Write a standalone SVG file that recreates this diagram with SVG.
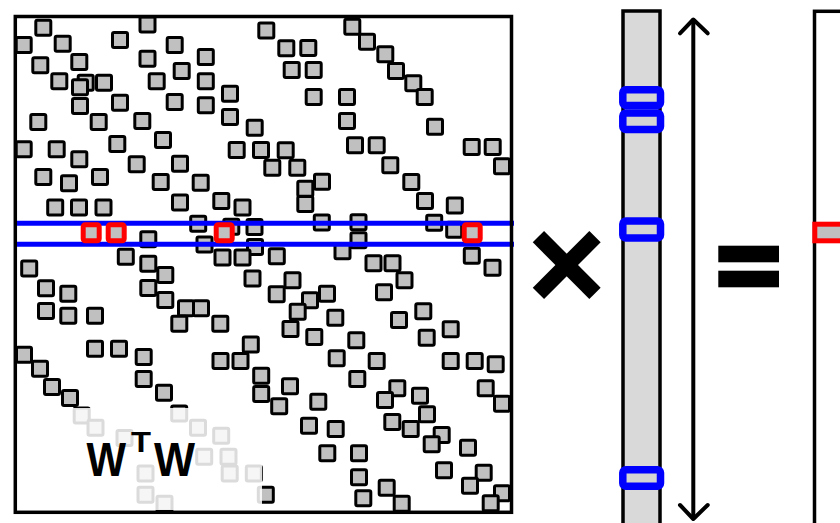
<svg xmlns="http://www.w3.org/2000/svg" xmlns:xlink="http://www.w3.org/1999/xlink" width="840" height="523" viewBox="0 0 840 523">
  <style>
    .cell { fill: #c0c0c0; stroke: #000; stroke-width: 3; }
    .hit { fill: #c0c0c0; stroke: #ff0000; stroke-width: 5; }
    .frame { fill: none; stroke: #000; stroke-width: 3.5; }
    .row { stroke: #0000ff; stroke-width: 5; }
    .pick { fill: #d4d4d4; stroke: #0000ff; stroke-width: 7.5; }
    .label { font-family: "Liberation Sans", Arial, sans-serif; font-weight: bold; fill: #000; }
    .arrow { fill: none; stroke: #000; stroke-width: 4; stroke-linecap: round; stroke-linejoin: round; }
  </style>
  <defs>
    <rect id="sq" x="-7.5" y="-7.5" width="15" height="15" rx="1.5" class="cell"/>
    <rect id="sqr" x="-8" y="-8" width="16" height="16" rx="2" class="hit"/>
  </defs>

  <rect width="840" height="523" fill="#fff"/>

  <!-- sparse matrix W^T W -->
  <g id="matrix">
    <g id="matrix-cells">
      <use href="#sq" x="43.3" y="27.7"/>
      <use href="#sq" x="23.7" y="45"/>
      <use href="#sq" x="147.5" y="24.4"/>
      <use href="#sq" x="120" y="40"/>
      <use href="#sq" x="62.7" y="43.7"/>
      <use href="#sq" x="174.7" y="45"/>
      <use href="#sq" x="40.3" y="65.3"/>
      <use href="#sq" x="79.3" y="62"/>
      <use href="#sq" x="147.5" y="58.7"/>
      <use href="#sq" x="205.8" y="57"/>
      <use href="#sq" x="181.7" y="71"/>
      <use href="#sq" x="59.3" y="81.3"/>
      <use href="#sq" x="85.7" y="82.7"/>
      <use href="#sq" x="104" y="82.7"/>
      <use href="#sq" x="80" y="87.3"/>
      <use href="#sq" x="156.7" y="81.3"/>
      <use href="#sq" x="205.8" y="81.3"/>
      <use href="#sq" x="230" y="93.7"/>
      <use href="#sq" x="80" y="106"/>
      <use href="#sq" x="120" y="102.7"/>
      <use href="#sq" x="174.7" y="102"/>
      <use href="#sq" x="205.8" y="105.3"/>
      <use href="#sq" x="230" y="117"/>
      <use href="#sq" x="38.3" y="122"/>
      <use href="#sq" x="98.7" y="122"/>
      <use href="#sq" x="142.3" y="121"/>
      <use href="#sq" x="254.7" y="127.7"/>
      <use href="#sq" x="163" y="140"/>
      <use href="#sq" x="117.3" y="144"/>
      <use href="#sq" x="23.7" y="149.3"/>
      <use href="#sq" x="56.7" y="149.3"/>
      <use href="#sq" x="236.7" y="150"/>
      <use href="#sq" x="261" y="150"/>
      <use href="#sq" x="79.3" y="159.3"/>
      <use href="#sq" x="136.7" y="164.3"/>
      <use href="#sq" x="180" y="163.7"/>
      <use href="#sq" x="43.3" y="177"/>
      <use href="#sq" x="100" y="177"/>
      <use href="#sq" x="69" y="183.3"/>
      <use href="#sq" x="160.7" y="182"/>
      <use href="#sq" x="200.7" y="182.7"/>
      <use href="#sq" x="55.2" y="207.5"/>
      <use href="#sq" x="79" y="207.5"/>
      <use href="#sq" x="103.5" y="207.5"/>
      <use href="#sq" x="180" y="202.5"/>
      <use href="#sq" x="221.3" y="201"/>
      <use href="#sq" x="242.5" y="207.5"/>
      <use href="#sq" x="198.2" y="223.7"/>
      <use href="#sq" x="231.3" y="226.7"/>
      <use href="#sq" x="254.5" y="227"/>
      <use href="#sq" x="148.3" y="239.2"/>
      <use href="#sq" x="204.5" y="244.5"/>
      <use href="#sq" x="255" y="247"/>
      <use href="#sq" x="125.8" y="256.8"/>
      <use href="#sq" x="222.5" y="257.5"/>
      <use href="#sq" x="242.5" y="257.5"/>
      <use href="#sq" x="148.3" y="263.8"/>
      <use href="#sq" x="29.2" y="268.5"/>
      <use href="#sq" x="165.3" y="275"/>
      <use href="#sq" x="252.5" y="278.5"/>
      <use href="#sq" x="46" y="288.3"/>
      <use href="#sq" x="68.3" y="293.7"/>
      <use href="#sq" x="148.3" y="288"/>
      <use href="#sq" x="165.3" y="300"/>
      <use href="#sq" x="186" y="308.3"/>
      <use href="#sq" x="201" y="308.3"/>
      <use href="#sq" x="46" y="311"/>
      <use href="#sq" x="68.3" y="315.7"/>
      <use href="#sq" x="95" y="315.7"/>
      <use href="#sq" x="179.3" y="323.7"/>
      <use href="#sq" x="220.3" y="323.7"/>
      <use href="#sq" x="250.8" y="344.5"/>
      <use href="#sq" x="95" y="348.7"/>
      <use href="#sq" x="119" y="348.7"/>
      <use href="#sq" x="143.7" y="357"/>
      <use href="#sq" x="220.5" y="361"/>
      <use href="#sq" x="240.5" y="361"/>
      <use href="#sq" x="261.2" y="375.8"/>
      <use href="#sq" x="261.2" y="394"/>
      <use href="#sq" x="24" y="354.7"/>
      <use href="#sq" x="40" y="368.7"/>
      <use href="#sq" x="52" y="387"/>
      <use href="#sq" x="70" y="398"/>
      <use href="#sq" x="143.7" y="379"/>
      <use href="#sq" x="164" y="392.7"/>

      <use href="#sq" x="266.3" y="30.5"/>
      <use href="#sq" x="352.3" y="26.7"/>
      <use href="#sq" x="367" y="41.7"/>
      <use href="#sq" x="286.3" y="48.3"/>
      <use href="#sq" x="308.3" y="48"/>
      <use href="#sq" x="385.3" y="54.3"/>
      <use href="#sq" x="291.7" y="70"/>
      <use href="#sq" x="313.7" y="70"/>
      <use href="#sq" x="396" y="71"/>
      <use href="#sq" x="413.3" y="83.3"/>
      <use href="#sq" x="313.7" y="97"/>
      <use href="#sq" x="347" y="97"/>
      <use href="#sq" x="424.7" y="97"/>
      <use href="#sq" x="347" y="121"/>
      <use href="#sq" x="435" y="126.7"/>
      <use href="#sq" x="355" y="145.3"/>
      <use href="#sq" x="376.7" y="145.3"/>
      <use href="#sq" x="471.7" y="147"/>
      <use href="#sq" x="492.7" y="147"/>
      <use href="#sq" x="285.7" y="150.3"/>
      <use href="#sq" x="502" y="166.3"/>
      <use href="#sq" x="272.3" y="167.7"/>
      <use href="#sq" x="297.3" y="167.7"/>
      <use href="#sq" x="390.3" y="165.3"/>
      <use href="#sq" x="411.3" y="182"/>
      <use href="#sq" x="322" y="181.7"/>
      <use href="#sq" x="305.3" y="188.7"/>
      <use href="#sq" x="305.3" y="204"/>
      <use href="#sq" x="425" y="201"/>
      <use href="#sq" x="454.8" y="205.5"/>
      <use href="#sq" x="321.8" y="222.5"/>
      <use href="#sq" x="358.5" y="222.2"/>
      <use href="#sq" x="434.2" y="222.8"/>
      <use href="#sq" x="454.2" y="229.7"/>
      <use href="#sq" x="358.5" y="240.2"/>
      <use href="#sq" x="276.8" y="256.2"/>
      <use href="#sq" x="342.5" y="251.3"/>
      <use href="#sq" x="373.5" y="263.3"/>
      <use href="#sq" x="392.5" y="263.3"/>
      <use href="#sq" x="471.8" y="255.8"/>
      <use href="#sq" x="492.5" y="267.8"/>
      <use href="#sq" x="292.5" y="280.2"/>
      <use href="#sq" x="404.5" y="280.3"/>
      <use href="#sq" x="276.7" y="294.2"/>
      <use href="#sq" x="327" y="293.7"/>
      <use href="#sq" x="384" y="292.3"/>
      <use href="#sq" x="310" y="300.3"/>
      <use href="#sq" x="297.7" y="311.7"/>
      <use href="#sq" x="335.3" y="317.7"/>
      <use href="#sq" x="399" y="320"/>
      <use href="#sq" x="423.3" y="311.3"/>
      <use href="#sq" x="290.5" y="329"/>
      <use href="#sq" x="314.3" y="337"/>
      <use href="#sq" x="356.3" y="340.3"/>
      <use href="#sq" x="426.7" y="337.7"/>
      <use href="#sq" x="450.7" y="329.3"/>
      <use href="#sq" x="336.7" y="358.3"/>
      <use href="#sq" x="376.7" y="361"/>
      <use href="#sq" x="450.7" y="361"/>
      <use href="#sq" x="474.7" y="361"/>
      <use href="#sq" x="495.7" y="364.3"/>
      <use href="#sq" x="357.3" y="379"/>
      <use href="#sq" x="290" y="386.3"/>
      <use href="#sq" x="397.3" y="388.3"/>
      <use href="#sq" x="485.7" y="388.3"/>
      <use href="#sq" x="385" y="400"/>
      <use href="#sq" x="420" y="395.7"/>
      <use href="#sq" x="318.3" y="401.7"/>
      <use href="#sq" x="502" y="403.7"/>
      <use href="#sq" x="279.2" y="406.3"/>
      <use href="#sq" x="427" y="414.3"/>
      <use href="#sq" x="392.3" y="422"/>
      <use href="#sq" x="309" y="425.7"/>
      <use href="#sq" x="335.7" y="429"/>
      <use href="#sq" x="410.7" y="429"/>
      <use href="#sq" x="441.7" y="435"/>
      <use href="#sq" x="431.7" y="444.3"/>
      <use href="#sq" x="468" y="447.7"/>
      <use href="#sq" x="327.3" y="453.3"/>
      <use href="#sq" x="359" y="453.3"/>
      <use href="#sq" x="359" y="477.3"/>
      <use href="#sq" x="444" y="470.3"/>
      <use href="#sq" x="483.7" y="472.7"/>
      <use href="#sq" x="470" y="485.7"/>
      <use href="#sq" x="386.7" y="487.7"/>
      <use href="#sq" x="363.3" y="498.3"/>
      <use href="#sq" x="502" y="493.3"/>
      <use href="#sq" x="401.7" y="503.7"/>
      <use href="#sq" x="490.7" y="503.3"/>
      <use href="#sq" x="179.2" y="413.5"/>

      <use href="#sq" x="81.7" y="415.5"/>
      <use href="#sq" x="95.5" y="427.7"/>
      <use href="#sq" x="124.5" y="438"/>
      <use href="#sq" x="198" y="427.7"/>
      <use href="#sq" x="221.2" y="435.8"/>
      <use href="#sq" x="204.2" y="456.8"/>
      <use href="#sq" x="228.5" y="456.8"/>
      <use href="#sq" x="145.5" y="473.5"/>
      <use href="#sq" x="229.7" y="473.5"/>
      <use href="#sq" x="253.8" y="473.5"/>
      <use href="#sq" x="145.5" y="494.7"/>
      <use href="#sq" x="164.5" y="503.8"/>
      <use href="#sq" x="265.8" y="494.7"/>
    </g>

    <!-- selected row band -->
    <line class="row" x1="17" y1="223.3" x2="514" y2="223.3"/>
    <line class="row" x1="17" y1="244.2" x2="514" y2="244.2"/>
    <g id="row-hits">
      <use href="#sqr" x="91.2" y="232.8"/>
      <use href="#sqr" x="116.2" y="232.8"/>
      <use href="#sqr" x="224.2" y="232.8"/>
      <use href="#sqr" x="472.2" y="232.8"/>
    </g>

    <!-- light backing behind the label -->
    <rect x="66" y="408" width="196" height="102" fill="#fff" opacity="0.86"/>
    <rect class="frame" x="15.3" y="16.5" width="496.2" height="495.8"/>

    <text class="label" x="86.5" y="476" font-size="48" textLength="39.5" lengthAdjust="spacingAndGlyphs">W</text>
    <text class="label" x="131" y="452" font-size="30" textLength="20" lengthAdjust="spacingAndGlyphs">T</text>
    <text class="label" x="154" y="476" font-size="48" textLength="41" lengthAdjust="spacingAndGlyphs">W</text>
  </g>

  <!-- multiplication sign -->
  <g id="times">
    <line x1="538.4" y1="236.7" x2="595" y2="293.3" stroke="#000" stroke-width="16"/>
    <line x1="538.4" y1="293.3" x2="595" y2="236.7" stroke="#000" stroke-width="16"/>
  </g>

  <!-- input vector -->
  <g id="vector">
    <rect x="623" y="11" width="37" height="520" fill="#d9d9d9" stroke="#000" stroke-width="3.5"/>
    <rect class="pick" x="622.8" y="89.8" width="37.7" height="15.7" rx="3"/>
    <rect class="pick" x="622.8" y="113.1" width="37.7" height="16.3" rx="3"/>
    <rect class="pick" x="622.8" y="221" width="37.7" height="17" rx="3"/>
    <rect class="pick" x="622.8" y="469.8" width="37.7" height="16.4" rx="3"/>
  </g>

  <g id="connectors">
    <line class="arrow" x1="693.3" y1="21" x2="693.3" y2="517"/>
    <polyline class="arrow" points="680,33.3 693.3,19.5 707.7,33.3"/>
    <polyline class="arrow" points="680,505 693.3,519 707.7,505"/>
  </g>

  <!-- equals sign -->
  <g id="equals">
    <rect x="718.3" y="245.7" width="60.7" height="16.6" fill="#000"/>
    <rect x="718.3" y="270.7" width="60.7" height="16.6" fill="#000"/>
  </g>

  <!-- output vector -->
  <g id="result">
    <rect x="814.5" y="11.3" width="60" height="520" fill="#fff" stroke="#000" stroke-width="3.5"/>
    <rect x="814.8" y="224.2" width="60" height="16.6" fill="#c0c0c0" stroke="#ff0000" stroke-width="5"/>
  </g>
</svg>
